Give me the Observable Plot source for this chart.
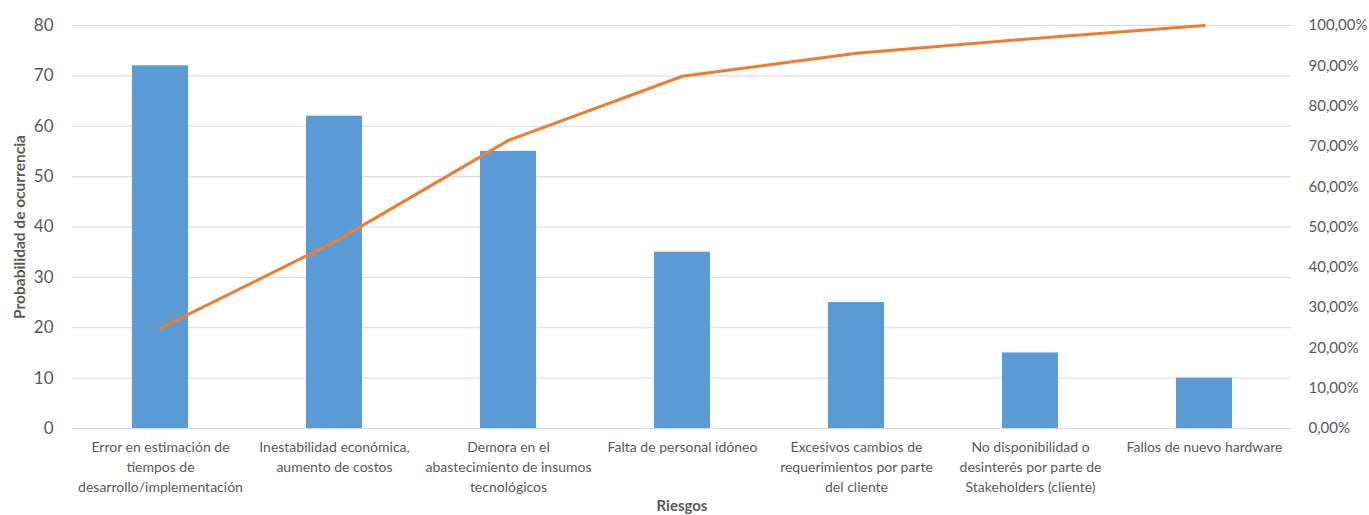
<!DOCTYPE html>
<html>
<head>
<meta charset="utf-8">
<script src="https://cdn.jsdelivr.net/npm/d3@7"></script>
<script src="https://cdn.jsdelivr.net/npm/@observablehq/plot@0.6"></script>
<style>
  html, body { margin: 0; padding: 0; background: #fff; }
  #chart svg { display: block; }
</style>
</head>
<body>
<div id="chart"></div>
<script>
// Data
const categories = [
  "Error en estimación de\ntiempos de\ndesarrollo/implementación",
  "Inestabilidad económica,\naumento de costos",
  "Demora en el\nabastecimiento de insumos\ntecnológicos",
  "Falta de personal idóneo",
  "Excesivos cambios de\nrequerimientos por parte\ndel cliente",
  "No disponibilidad o\ndesinterés por parte de\nStakeholders (cliente)",
  "Fallos de nuevo hardware"
];
const probabilidad = [72, 62, 55, 35, 25, 15, 10];
const acumulado = [24.9, 46.3, 71.5, 87.4, 93.1, 96.7, 100];
const leftTicks = [0, 10, 20, 30, 40, 50, 60, 70, 80];
const rightTicks = [0, 10, 20, 30, 40, 50, 60, 70, 80, 90, 100];

const leftMax = 80;
const pctToLeft = p => p * leftMax / 100;

const rows = categories.map((c, i) => ({cat: c, val: probabilidad[i], pct: pctToLeft(acumulado[i])}));

const fontFam = "Lato, 'Open Sans', sans-serif";
const gray = "#595959";

const chart = Plot.plot({
  width: 1369,
  height: 515,
  marginTop: 25,
  marginBottom: 87,
  marginLeft: 72,
  marginRight: 78,
  style: {fontFamily: fontFam, background: "#fff", color: gray},
  x: {type: "band", domain: categories, paddingInner: 0.68, paddingOuter: 0.34},
  y: {domain: [0, leftMax]},
  marks: [
    Plot.gridY(leftTicks, {stroke: "#d9d9d9", strokeOpacity: 1, strokeWidth: 1}),
    Plot.barY(rows, {x: "cat", y: "val", fill: "#5b9bd5"}),
    Plot.line(rows, {x: "cat", y: "pct", stroke: "#ed7d31", strokeWidth: 3}),
    Plot.axisY({anchor: "left", ticks: leftTicks, tickSize: 0, tickPadding: 19, fontSize: 17, label: null, fill: gray}),
    Plot.axisY({anchor: "right", ticks: rightTicks.map(pctToLeft), tickSize: 0, tickPadding: 17, fontSize: 15, label: null, fill: gray,
      tickFormat: d => (d * 100 / leftMax).toFixed(2).replace(".", ",") + "%"}),
    Plot.axisX({tickSize: 0, tickPadding: 10, fontSize: 14, lineHeight: 1.4, lineAnchor: "top", label: null, fill: gray}),
    Plot.text(["Probabilidad de ocurrencia"], {frameAnchor: "left", textAnchor: "middle", dx: -52, rotate: -90, fontSize: 15.5, fontWeight: "bold", fill: gray}),
    Plot.text(["Riesgos"], {frameAnchor: "bottom", dy: 82, fontSize: 15, fontWeight: "bold", fill: gray})
  ]
});
document.getElementById("chart").appendChild(chart);
</script>
</body>
</html>
